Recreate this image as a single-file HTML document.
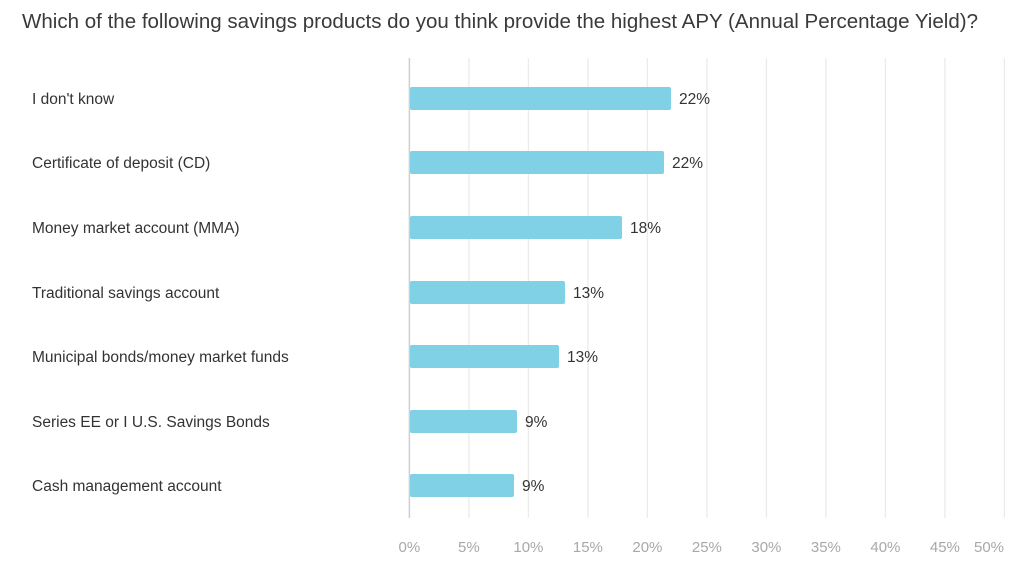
<!DOCTYPE html>
<html><head><meta charset="utf-8"><style>
body{margin:0;width:1024px;height:574px;background:#fff;overflow:hidden;font-family:"Liberation Sans",sans-serif}
</style></head><body>
<svg width="1024" height="574" xmlns="http://www.w3.org/2000/svg" font-family="Liberation Sans, sans-serif">
<text x="22" y="28" font-size="20" fill="#3a3a3a" textLength="956" lengthAdjust="spacingAndGlyphs">Which of the following savings products do you think provide the highest APY (Annual Percentage Yield)?</text>
<g stroke="#ebebeb" stroke-width="1.3">
<line x1="468.9" y1="58" x2="468.9" y2="518"/><line x1="528.4" y1="58" x2="528.4" y2="518"/>
<line x1="587.9" y1="58" x2="587.9" y2="518"/><line x1="647.4" y1="58" x2="647.4" y2="518"/>
<line x1="706.9" y1="58" x2="706.9" y2="518"/><line x1="766.4" y1="58" x2="766.4" y2="518"/>
<line x1="825.9" y1="58" x2="825.9" y2="518"/><line x1="885.4" y1="58" x2="885.4" y2="518"/>
<line x1="944.9" y1="58" x2="944.9" y2="518"/><line x1="1004.4" y1="58" x2="1004.4" y2="518"/>
</g>
<line x1="409.4" y1="58" x2="409.4" y2="518" stroke="#cfcfcf" stroke-width="1.5"/>
<g fill="#80d0e6">
<rect x="410" y="87" width="261" height="23" rx="2"/>
<rect x="410" y="151" width="254" height="23" rx="2"/>
<rect x="410" y="216" width="212" height="23" rx="2"/>
<rect x="410" y="281" width="155" height="23" rx="2"/>
<rect x="410" y="345" width="149" height="23" rx="2"/>
<rect x="410" y="410" width="107" height="23" rx="2"/>
<rect x="410" y="474" width="104" height="23" rx="2"/>
</g>
<g font-size="15.5" fill="#333">
<text x="32" y="104">I don't know</text>
<text x="32" y="168">Certificate of deposit (CD)</text>
<text x="32" y="233">Money market account (MMA)</text>
<text x="32" y="298">Traditional savings account</text>
<text x="32" y="362">Municipal bonds/money market funds</text>
<text x="32" y="427">Series EE or I U.S. Savings Bonds</text>
<text x="32" y="491">Cash management account</text>
<text x="679" y="104">22%</text>
<text x="672" y="168">22%</text>
<text x="630" y="233">18%</text>
<text x="573" y="298">13%</text>
<text x="567" y="362">13%</text>
<text x="525" y="427">9%</text>
<text x="522" y="491">9%</text>
</g>
<g font-size="15" fill="#a8a8a8" text-anchor="middle">
<text x="409.4" y="552">0%</text><text x="468.9" y="552">5%</text><text x="528.4" y="552">10%</text>
<text x="587.9" y="552">15%</text><text x="647.4" y="552">20%</text><text x="706.9" y="552">25%</text>
<text x="766.4" y="552">30%</text><text x="825.9" y="552">35%</text><text x="885.4" y="552">40%</text>
<text x="944.9" y="552">45%</text><text x="989" y="552">50%</text>
</g>
</svg>
</body></html>
